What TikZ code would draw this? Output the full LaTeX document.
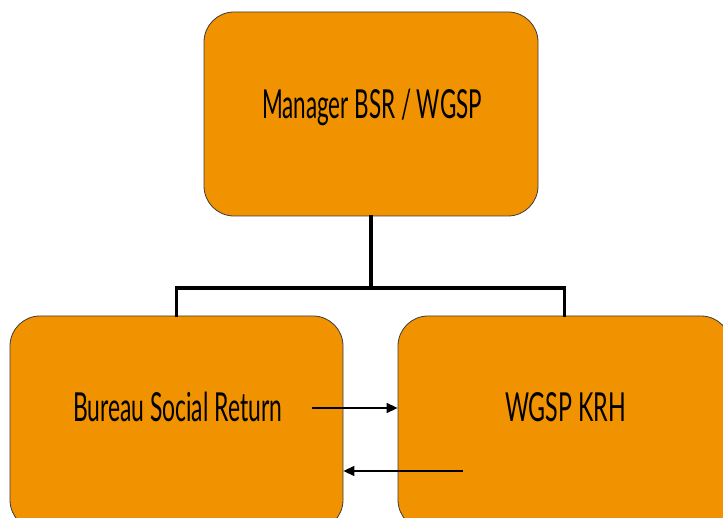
\documentclass[tikz,border=0pt]{standalone}
\usepackage{fontspec}
\setmainfont{Lato}
\usetikzlibrary{arrows.meta}
\definecolor{boxorange}{RGB}{241,146,0}
\definecolor{boxedge}{RGB}{60,60,60}
\tikzset{
  orgbox/.style={draw=boxedge, line width=0.8pt, fill=boxorange, rounded corners=30pt, inner sep=0pt},
  lbl/.style={anchor=base, inner sep=0pt, font=\fontsize{40}{44}\selectfont},
  tree/.style={line width=3.6pt, line cap=rect},
  flow/.style={line width=1.4pt, -{Triangle[length=11pt,width=10pt]}}
}
\begin{document}
\begin{tikzpicture}[x=1pt,y=-1pt]
\useasboundingbox (0,0) rectangle (723,518);
\clip (0,0) rectangle (723,518);
\node[orgbox, minimum width=334pt, minimum height=204pt] (top) at (371,114) {};
\node[orgbox, minimum width=333pt, minimum height=214pt] (left) at (176.5,423) {};
\node[orgbox, minimum width=333pt, minimum height=214pt] (right) at (564.5,423) {};
\node[lbl] (ttop) at (372,118.3) {\resizebox{220pt}{\height}{Manager BSR / WGSP}};
\node[lbl] (tleft) at (177.5,421.7) {\resizebox{209pt}{\height}{Bureau Social Return}};
\node[lbl] (tright) at (565.5,421.7) {\resizebox{121pt}{\height}{WGSP KRH}};
\coordinate (j) at (371,288);
\draw[tree] (top.south) -- (j) -| (left.north);
\draw[tree] (j) -| (right.north);
\coordinate (a1) at (312,408);
\coordinate (a2) at (463,471);
\draw[flow] (a1) -- (a1 -| right.west);
\draw[flow] (a2) -- (a2 -| left.east);
\end{tikzpicture}
\end{document}
